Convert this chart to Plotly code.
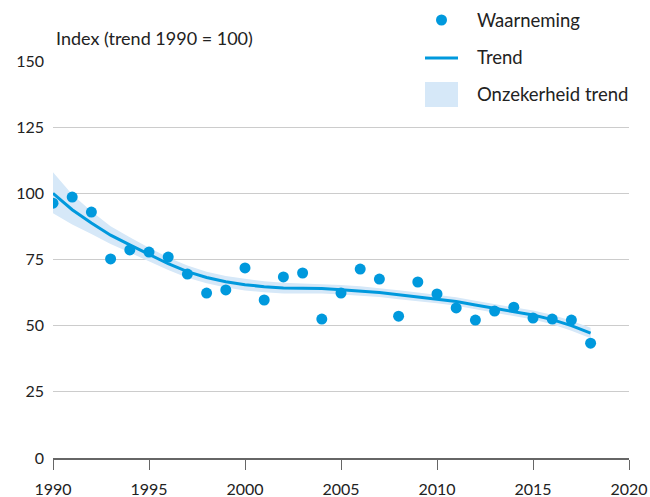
import plotly.graph_objects as go

years = list(range(1990, 2019))
observed = [96.3, 98.6, 92.9, 75.2, 78.6, 77.8, 75.9, 69.5, 62.3, 63.5,
            71.8, 59.7, 68.4, 69.9, 52.5, 62.3, 71.4, 67.6, 53.6, 66.5,
            62.0, 56.7, 52.1, 55.5, 57.0, 52.9, 52.5, 52.1, 43.4]
trend = [100.0, 93.8, 88.8, 84.2, 80.5, 76.8, 73.4, 70.4, 68.2, 66.6,
         65.5, 64.7, 64.2, 64.1, 64.0, 63.6, 63.1, 62.5, 61.7, 60.9,
         60.1, 59.1, 57.8, 56.6, 55.4, 54.0, 52.3, 50.0, 47.2]
trend_lower = [92.5, 88.2, 84.6, 80.9, 77.6, 74.2, 71.0, 68.1, 66.0, 64.4,
               63.3, 62.6, 62.2, 62.2, 62.2, 61.8, 61.3, 60.8, 60.0, 59.3,
               58.5, 57.5, 56.2, 55.0, 53.8, 52.3, 50.5, 48.1, 45.2]
trend_upper = [108.0, 99.6, 93.2, 87.6, 83.4, 79.4, 75.8, 72.7, 70.4, 68.8,
               67.7, 66.8, 66.2, 66.0, 65.8, 65.4, 64.9, 64.2, 63.4, 62.5,
               61.7, 60.7, 59.4, 58.2, 57.0, 55.7, 54.1, 51.9, 49.2]
x_ticks = [1990, 1995, 2000, 2005, 2010, 2015, 2020]
y_ticks = [0, 25, 50, 75, 100, 125, 150]

BLUE = "#0099dd"
BAND = "#d6e8f8"
TXT = "#222222"
FONT = "Lato"

fig = go.Figure()
fig.add_trace(go.Scatter(x=years, y=trend_lower, mode="lines",
                         line=dict(width=0), hoverinfo="skip", showlegend=False))
fig.add_trace(go.Scatter(x=years, y=trend_upper, mode="lines", fill="tonexty",
                         fillcolor=BAND, line=dict(width=0), name="Onzekerheid trend",
                         showlegend=False))
fig.add_trace(go.Scatter(x=years, y=trend, mode="lines", line=dict(color=BLUE, width=3),
                         name="Trend", showlegend=False))
fig.add_trace(go.Scatter(x=years, y=observed, mode="markers",
                         marker=dict(color=BLUE, size=11), name="Waarneming", showlegend=False))

W, H = 650, 497
L, R, T, B = 53, 21, 61, 39
pw, ph = W - L - R, H - T - B

def px(x):
    return (x - L) / pw

def py(y):
    return (H - B - y) / ph

shapes = [
    # hide the right part of the 150 gridline (legend area)
    dict(type="line", xref="paper", yref="paper", x0=px(380), x1=px(632), y0=1, y1=1,
         line=dict(color="white", width=3), layer="above"),
    # legend symbols
    dict(type="circle", xref="paper", yref="paper", x0=px(436), x1=px(447), y0=py(14.5), y1=py(25.5),
         fillcolor=BLUE, line=dict(width=0)),
    dict(type="line", xref="paper", yref="paper", x0=px(425), x1=px(458), y0=py(58), y1=py(58),
         line=dict(color=BLUE, width=3)),
    dict(type="rect", xref="paper", yref="paper", x0=px(425), x1=px(458), y0=py(82), y1=py(107),
         fillcolor=BAND, line=dict(width=0)),
]

annotations = [
    dict(text="Index (trend 1990 = 100)", xref="paper", yref="paper", x=px(54), y=py(38),
         xanchor="left", yanchor="middle", showarrow=False, font=dict(family=FONT, size=18, color=TXT)),
]
for label, yy in [("Waarneming", 20), ("Trend", 57), ("Onzekerheid trend", 94)]:
    annotations.append(dict(text=label, xref="paper", yref="paper", x=px(475), y=py(yy),
                            xanchor="left", yanchor="middle", showarrow=False,
                            font=dict(family=FONT, size=18.5, color=TXT)))

fig.update_layout(
    width=W, height=H,
    margin=dict(l=L, r=R, t=T, b=B, autoexpand=False),
    paper_bgcolor="white", plot_bgcolor="white",
    showlegend=False,
    shapes=shapes, annotations=annotations,
    xaxis=dict(range=[1990, 2020], tickvals=x_ticks, showgrid=False, zeroline=False,
               automargin=False,
               showline=True, linecolor="#666666", linewidth=1.5,
               ticks="outside", ticklen=10, tickcolor="#666666", tickwidth=1,
               tickfont=dict(family=FONT, size=16, color=TXT), ticklabelstandoff=6),
    yaxis=dict(range=[0, 150], tickvals=y_ticks, showgrid=True, gridcolor="#cccccc", gridwidth=1,
               automargin=False,
               zeroline=False, showline=False, ticks="",
               tickfont=dict(family=FONT, size=16, color=TXT), ticklabelstandoff=8),
)

fig.write_html("out.html", config={"displayModeBar": False},
               post_script="document.body.style.margin='0';document.body.style.overflow='hidden';")
